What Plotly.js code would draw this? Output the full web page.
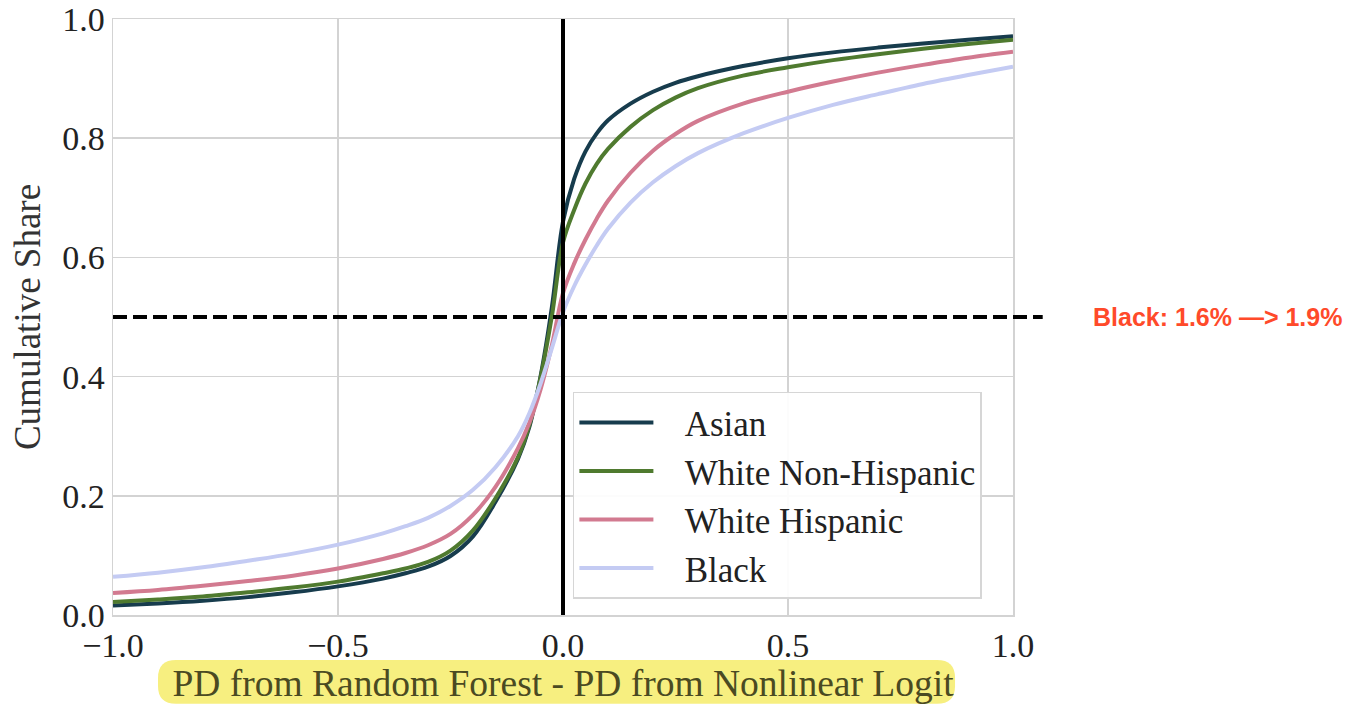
<!DOCTYPE html>
<html>
<head>
<meta charset="utf-8">
<script src="https://cdn.plot.ly/plotly-3.0.1.min.js"></script>
<style>html,body{margin:0;padding:0;background:#fff;}#chart{width:1351px;height:704px;}</style>
</head>
<body>
<div id="chart"></div>
<script>
const xVals = [-1, -0.9, -0.8, -0.7, -0.6, -0.5, -0.4, -0.35, -0.3, -0.25, -0.2, -0.15, -0.1, -0.075, -0.05, -0.025, 0, 0.025, 0.05, 0.075, 0.1, 0.15, 0.2, 0.25, 0.3, 0.4, 0.5, 0.6, 0.7, 0.8, 0.9, 1.0];
const asian = [0.016, 0.0195, 0.024, 0.030, 0.038, 0.048, 0.061, 0.070, 0.081, 0.099, 0.132, 0.190, 0.262, 0.315, 0.400, 0.515, 0.660, 0.732, 0.778, 0.808, 0.830, 0.858, 0.878, 0.893, 0.904, 0.921, 0.934, 0.944, 0.952, 0.959, 0.965, 0.971];
const whiteNonHisp = [0.022, 0.026, 0.031, 0.038, 0.046, 0.056, 0.070, 0.078, 0.089, 0.108, 0.142, 0.196, 0.265, 0.318, 0.398, 0.500, 0.625, 0.680, 0.724, 0.757, 0.782, 0.819, 0.847, 0.868, 0.884, 0.905, 0.919, 0.931, 0.941, 0.950, 0.958, 0.965];
const whiteHisp = [0.037, 0.042, 0.049, 0.057, 0.066, 0.078, 0.094, 0.104, 0.117, 0.136, 0.168, 0.215, 0.280, 0.322, 0.378, 0.452, 0.540, 0.590, 0.630, 0.665, 0.695, 0.742, 0.779, 0.807, 0.829, 0.858, 0.878, 0.895, 0.910, 0.923, 0.935, 0.945];
const black = [0.064, 0.071, 0.080, 0.091, 0.103, 0.118, 0.137, 0.149, 0.163, 0.183, 0.210, 0.248, 0.300, 0.338, 0.388, 0.447, 0.508, 0.552, 0.588, 0.620, 0.648, 0.692, 0.726, 0.753, 0.775, 0.808, 0.834, 0.856, 0.874, 0.891, 0.906, 0.920];
const seriesNames = ["Asian", "White Non-Hispanic", "White Hispanic", "Black"];
const seriesColors = ["#173c4d", "#4f7a2f", "#d27a90", "#c4cbf3"];
const xTickVals = [-1, -0.5, 0, 0.5, 1];
const yTickVals = [0, 0.2, 0.4, 0.6, 0.8, 1.0];
const annotationText = "Black: 1.6% —> 1.9%";
const xTitle = "PD from Random Forest - PD from Nonlinear Logit";
const yTitle = "Cumulative Share";

const serif = "Liberation Serif, DejaVu Serif, serif";
const allY = [asian, whiteNonHisp, whiteHisp, black];
const traces = allY.map((ys, i) => ({
  x: xVals, y: ys, type: "scatter", mode: "lines",
  name: "\u00a0\u00a0\u00a0" + seriesNames[i],
  line: {color: seriesColors[i], width: 4, shape: "spline", smoothing: 1}
}));

// rounded highlight path (paper coords)
const hx0 = 0.05, hx1 = 0.9356, hy0 = -0.149, hy1 = -0.0755, rx = 0.02, ry = 0.03;
const hlPath = `M ${hx0 + rx},${hy0} L ${hx1 - rx},${hy0} Q ${hx1},${hy0} ${hx1},${hy0 + ry} L ${hx1},${hy1 - ry} Q ${hx1},${hy1} ${hx1 - rx},${hy1} L ${hx0 + rx},${hy1} Q ${hx0},${hy1} ${hx0},${hy1 - ry} L ${hx0},${hy0 + ry} Q ${hx0},${hy0} ${hx0 + rx},${hy0} Z`;

const layout = {
  width: 1351, height: 704,
  margin: {l: 113, r: 338, t: 19, b: 89},
  paper_bgcolor: "#ffffff", plot_bgcolor: "#ffffff",
  font: {family: serif, size: 34, color: "#222222"},
  showlegend: true,
  legend: {
    x: 0.511, y: 0.3745, xanchor: "left", yanchor: "top",
    bgcolor: "rgba(255,255,255,0.92)", bordercolor: "#d6d6d6", borderwidth: 1.5,
    font: {family: serif, size: 35, color: "#222222"},
    itemwidth: 74, tracegroupgap: 0
  },
  xaxis: {
    range: [-1, 1], tickvals: xTickVals, tickformat: ".1f",
    showgrid: true, gridcolor: "#d3d3d3", gridwidth: 1.5,
    zeroline: false, showline: true, linecolor: "#d3d3d3", linewidth: 1.5, mirror: true,
    ticks: "", ticklen: 0,
    tickfont: {family: serif, size: 34, color: "#222222"},
    title: {text: xTitle, font: {family: serif, size: 37.5, color: "#4a4a22"}, standoff: 8}
  },
  yaxis: {
    range: [0, 1], tickvals: yTickVals, tickformat: ".1f",
    showgrid: true, gridcolor: "#d3d3d3", gridwidth: 1.5,
    zeroline: false, showline: true, linecolor: "#d3d3d3", linewidth: 1.5, mirror: true,
    ticks: "", ticklen: 0,
    tickfont: {family: serif, size: 34, color: "#222222"},
    title: {text: yTitle, font: {family: serif, size: 37, color: "#333333"}, standoff: 10}
  },
  shapes: [
    {type: "path", xref: "paper", yref: "paper", path: hlPath,
     fillcolor: "#f7ef80", line: {width: 0}, layer: "below"},
    {type: "line", xref: "x", yref: "paper", x0: 0, x1: 0, y0: 0, y1: 1,
     line: {color: "#000000", width: 4}},
    {type: "line", xref: "paper", yref: "y", x0: 0, x1: 1.033, y0: 0.5, y1: 0.5,
     line: {color: "#000000", width: 4, dash: "14px,6px"}}
  ],
  annotations: [
    {text: "<b>" + annotationText + "</b>", xref: "paper", yref: "y", x: 1.087, y: 0.5,
     xanchor: "left", yanchor: "middle", showarrow: false,
     font: {family: "Liberation Sans, Arial, sans-serif", size: 25, color: "#ff4a2a"}}
  ]
};

Plotly.newPlot("chart", traces, layout, {staticPlot: true, displayModeBar: false});
</script>
</body>
</html>
